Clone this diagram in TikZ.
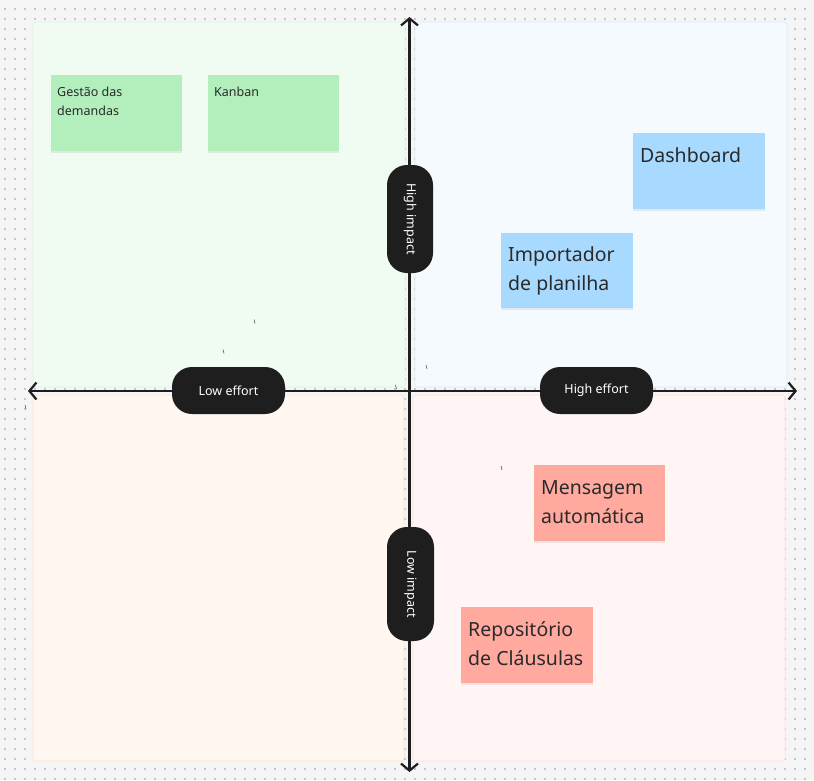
\documentclass[tikz,border=0pt]{standalone}
\usepackage{fontspec}
\setmainfont{Noto Sans}
\usetikzlibrary{arrows.meta}
\definecolor{bgc}{HTML}{F5F5F5}
\definecolor{dotc}{HTML}{C6C6C6}
\definecolor{tlf}{HTML}{F0FBF2}
\definecolor{tld}{HTML}{DDF3E1}
\definecolor{trf}{HTML}{F5FAFF}
\definecolor{trd}{HTML}{DDEBFA}
\definecolor{blf}{HTML}{FFF7F0}
\definecolor{bld}{HTML}{FBE8D5}
\definecolor{brf}{HTML}{FFF5F4}
\definecolor{brd}{HTML}{FBE2DE}
\definecolor{gnote}{HTML}{B3EFBD}
\definecolor{bnote}{HTML}{A8D9FE}
\definecolor{rnote}{HTML}{FFA99F}
\definecolor{ink}{HTML}{1E1E1E}
\definecolor{txt}{HTML}{2A2A2A}
\tikzset{
  quad/.style={rounded corners=3pt, line width=0.8pt},
  note/.style={inner sep=0pt, minimum width=131pt, minimum height=76pt, anchor=north west},
  shadowbox/.style={fill=black, opacity=0.07},
  pill/.style={fill=ink, rounded corners=20pt, inner sep=0pt, text=white, font=\fontsize{12.5}{14}\selectfont},
  axis/.style={draw=ink, line width=2.5pt, -{Straight Barb[length=7pt,width=17pt,line width=2.2pt]}},
  smalltxt/.style={font=\fontsize{12.5}{19}\selectfont, text=txt, inner sep=0pt, anchor=base west},
  bigtxt/.style={font=\fontsize{19.5}{29}\selectfont, text=txt, inner sep=0pt, anchor=base west},
  stray/.style={draw=black!70, line width=0.6pt}
}
\begin{document}
\begin{tikzpicture}[x=1pt,y=-1pt]
\useasboundingbox (0,0) rectangle (814,780);
\fill[bgc] (0,0) rectangle (814,780);
% dot grid
\foreach \i in {0,...,81}{
  \foreach \j in {0,...,77}{
    \fill[dotc] ({5+10*\i-0.6},{9+10*\j-0.6}) rectangle ++(1.2,1.2);
  }
}
% quadrants
\draw[quad, fill=tlf, draw=tld] (33,22) rectangle (405,387);
\draw[quad, fill=trf, draw=trd] (415,22) rectangle (787,387);
\draw[quad, fill=blf, draw=bld] (33,395) rectangle (404,761);
\draw[quad, fill=brf, draw=brd] (413,395) rectangle (785,761);
% sticky notes
\fill[shadowbox] (51,76.5) rectangle (182,152.5);
\node[note, fill=gnote] (gestao) at (51,75) {};
\node[smalltxt] (gestao1) at (57,96) {Gestão das};
\node[smalltxt] (gestao2) at (57,115) {demandas};
\fill[shadowbox] (208,76.5) rectangle (339,152.5);
\node[note, fill=gnote] (kanban) at (208,75) {};
\node[smalltxt] (kanban1) at (214,96) {Kanban};
\fill[shadowbox] (633,134.5) rectangle (765,210.5);
\node[note, fill=bnote, minimum width=132pt] (dash) at (633,133) {};
\node[bigtxt] (dash1) at (640,162) {Dashboard};
\fill[shadowbox] (501,234.5) rectangle (633,309.5);
\node[note, fill=bnote, minimum width=132pt, minimum height=75pt] (imp) at (501,233) {};
\node[bigtxt] (imp1) at (508,261.5) {Importador};
\node[bigtxt] (imp2) at (508,290.5) {de planilha};
\fill[shadowbox] (534,466.5) rectangle (665,542.5);
\node[note, fill=rnote] (msg) at (534,465) {};
\node[bigtxt] (msg1) at (541,494) {Mensagem};
\node[bigtxt] (msg2) at (541,523) {automática};
\fill[shadowbox] (461,608.5) rectangle (593,684.5);
\node[note, fill=rnote, minimum width=132pt] (repo) at (461,607) {};
\node[bigtxt] (repo1) at (468,636) {Repositório};
\node[bigtxt] (repo2) at (468,665) {de Cláusulas};
% stray marks
\draw[stray] (254,319.5) -- (255,323.5);
\draw[stray] (223,349.5) -- (224,353.5);
\draw[stray] (426,365) -- (427,369);
\draw[stray] (395.5,385) -- (396.5,389);
\draw[stray] (25,405) -- (26,409);
\draw[stray] (501,466) -- (502,470);
% axes
\coordinate (c) at (409.5,391);
\coordinate (top) at (409.5,17);
\coordinate (bot) at (409.5,772);
\coordinate (lft) at (28,391);
\coordinate (rgt) at (797,391);
\draw[axis] (c) -- (top);
\draw[axis] (c) -- (bot);
\draw[axis] (c) -- (lft);
\draw[axis] (c) -- (rgt);
% pills
\node[pill, minimum width=113pt, minimum height=47pt] (low) at (228.5,390.5) {Low effort};
\node[pill, minimum width=113pt, minimum height=47pt] (high) at (596.5,390.5) {High effort};
\node[pill, minimum width=46pt, minimum height=108pt] (himp) at (410,219) {};
\node[text=white, font=\fontsize{12.5}{14}\selectfont, rotate=-90, inner sep=0pt] (himpt) at (himp.center) {High impact};
\node[pill, minimum width=47pt, minimum height=114pt] (limp) at (410.5,584) {};
\node[text=white, font=\fontsize{12.5}{14}\selectfont, rotate=-90, inner sep=0pt] (limpt) at (limp.center) {Low impact};
\end{tikzpicture}
\end{document}
